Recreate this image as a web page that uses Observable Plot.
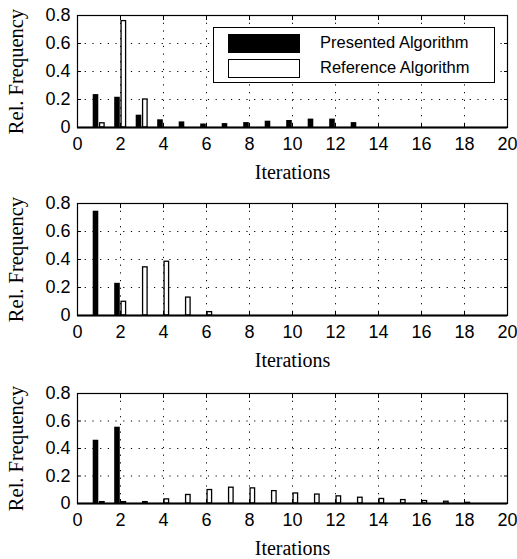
<!DOCTYPE html>
<html>
<head>
<meta charset="utf-8">
<script src="https://cdn.jsdelivr.net/npm/d3@7"></script>
<script src="https://cdn.jsdelivr.net/npm/@observablehq/plot@0.6"></script>
<style>
  html, body { margin: 0; padding: 0; background: #fff; }
  body { width: 517px; height: 559px; position: relative; overflow: hidden; }
  .panel { position: absolute; left: 0; width: 517px; }
  .legend { position: absolute; left: 213px; top: 27px; width: 282px; height: 56px;
            border: 1px solid #000; background: #fff; box-sizing: border-box;
            font-family: "Liberation Sans", Arial, sans-serif; font-size: 16.5px; color: #000; }
  .sw { position: absolute; left: 14px; width: 72px; height: 19px; box-sizing: border-box; }
  .lt { position: absolute; left: 106px; line-height: 19px; white-space: nowrap; }
</style>
</head>
<body>
<div id="p1" class="panel" style="top:0px"></div>
<div id="p2" class="panel" style="top:188px"></div>
<div id="p3" class="panel" style="top:378px"></div>
<script>
const iterations = [1, 2, 3, 4, 5, 6, 7, 8, 9, 10, 11, 12, 13, 14, 15, 16, 17, 18, 19, 20];
const seriesNames = ["Presented Algorithm", "Reference Algorithm"];
const xTicks = [0, 2, 4, 6, 8, 10, 12, 14, 16, 18, 20];
const yTicks = [0, 0.2, 0.4, 0.6, 0.8];
const xLabel = "Iterations";
const yLabel = "Rel. Frequency";

// Panel 1
const presented1 = [0.235, 0.216, 0.088, 0.055, 0.04, 0.025, 0.028, 0.035, 0.045, 0.05, 0.06, 0.06, 0.035, 0, 0, 0, 0, 0, 0, 0];
const reference1 = [0.03, 0.76, 0.20, 0, 0, 0, 0, 0, 0, 0, 0, 0, 0, 0, 0, 0, 0, 0, 0, 0];
// Panel 2
const presented2 = [0.745, 0.23, 0, 0, 0, 0, 0, 0, 0, 0, 0, 0, 0, 0, 0, 0, 0, 0, 0, 0];
const reference2 = [0, 0.098, 0.344, 0.384, 0.128, 0.024, 0, 0, 0, 0, 0, 0, 0, 0, 0, 0, 0, 0, 0, 0];
// Panel 3
const presented3 = [0.46, 0.555, 0, 0, 0, 0, 0, 0, 0, 0, 0, 0, 0, 0, 0, 0, 0, 0, 0, 0];
const reference3 = [0.01, 0.01, 0.01, 0.03, 0.062, 0.098, 0.115, 0.11, 0.09, 0.073, 0.065, 0.052, 0.042, 0.033, 0.025, 0.018, 0.013, 0.005, 0, 0];

// bar offsets relative to the iteration (style)
const blackOff = [-0.27, -0.01];
const whiteOff = [0.05, 0.26];

function panel(presented, reference, plotH) {
  const rows = iterations.map((it, i) => ({it, p: presented[i], r: reference[i]}));
  const mt = 15, mb = 54;
  const dots = {stroke: "#000", strokeOpacity: 1, strokeWidth: 1, strokeDasharray: "1.2,6.5"};
  return Plot.plot({
    width: 517,
    height: mt + plotH + mb,
    marginTop: mt,
    marginBottom: mb,
    marginLeft: 77,
    marginRight: 10,
    x: {domain: [0, 20]},
    y: {domain: [0, 0.8]},
    style: {fontFamily: "'Liberation Sans', Arial, sans-serif", fontSize: "18px", color: "#000", background: "#fff", overflow: "visible"},
    marks: [
      Plot.gridX({ticks: xTicks, ...dots}),
      Plot.gridY({ticks: yTicks, ...dots}),
      Plot.rectY(rows, {x1: d => d.it + blackOff[0], x2: d => d.it + blackOff[1], y: "p", fill: "#000"}),
      Plot.rectY(rows, {x1: d => d.it + whiteOff[0], x2: d => d.it + whiteOff[1], y: "r", fill: "#fff", stroke: "#000", strokeWidth: 1.3}),
      Plot.ruleY([0], {stroke: "#000", strokeWidth: 2.2}),
      Plot.frame({stroke: "#000", strokeWidth: 1.2}),
      Plot.axisX({ticks: xTicks, anchor: "bottom", tickSize: 0, tickPadding: 10, label: null, tickFormat: d => String(d)}),
      Plot.axisY({ticks: yTicks, anchor: "left", tickSize: 0, tickPadding: 7, label: null, tickFormat: d => d === 0 ? "0" : d.toFixed(1)}),
      Plot.axisX({ticks: xTicks, anchor: "bottom", tickSize: 4, dy: -4, text: null, label: null}),
      Plot.axisX({ticks: xTicks, anchor: "top", tickSize: 4, dy: 4, text: null, label: null}),
      Plot.axisY({ticks: yTicks, anchor: "left", tickSize: 4, dx: 4, text: null, label: null}),
      Plot.axisY({ticks: yTicks, anchor: "right", tickSize: 4, dx: -4, text: null, label: null}),
      Plot.text([xLabel], {frameAnchor: "bottom", dy: 51, lineAnchor: "bottom", textAnchor: "middle", text: d => d, fontFamily: "'Liberation Serif', 'Times New Roman', serif", fontSize: 20, fill: "#000"}),
      Plot.text([yLabel], {frameAnchor: "left", dx: -55, rotate: -90, lineAnchor: "bottom", textAnchor: "middle", text: d => d, fontFamily: "'Liberation Serif', 'Times New Roman', serif", fontSize: 20.5, fill: "#000"})
    ]
  });
}

document.getElementById("p1").appendChild(panel(presented1, reference1, 112));
document.getElementById("p2").appendChild(panel(presented2, reference2, 112));
document.getElementById("p3").appendChild(panel(presented3, reference3, 110));

// legend in panel 1
const lg = document.createElement("div");
lg.className = "legend";
seriesNames.forEach((name, i) => {
  const sw = document.createElement("div");
  sw.className = "sw";
  sw.style.top = (i === 0 ? 6 : 31) + "px";
  sw.style.background = i === 0 ? "#000" : "#fff";
  sw.style.border = "1.5px solid #000";
  const t = document.createElement("div");
  t.className = "lt";
  t.style.top = (i === 0 ? 5 : 30) + "px";
  t.textContent = name;
  lg.appendChild(sw);
  lg.appendChild(t);
});
document.getElementById("p1").appendChild(lg);
</script>
</body>
</html>
